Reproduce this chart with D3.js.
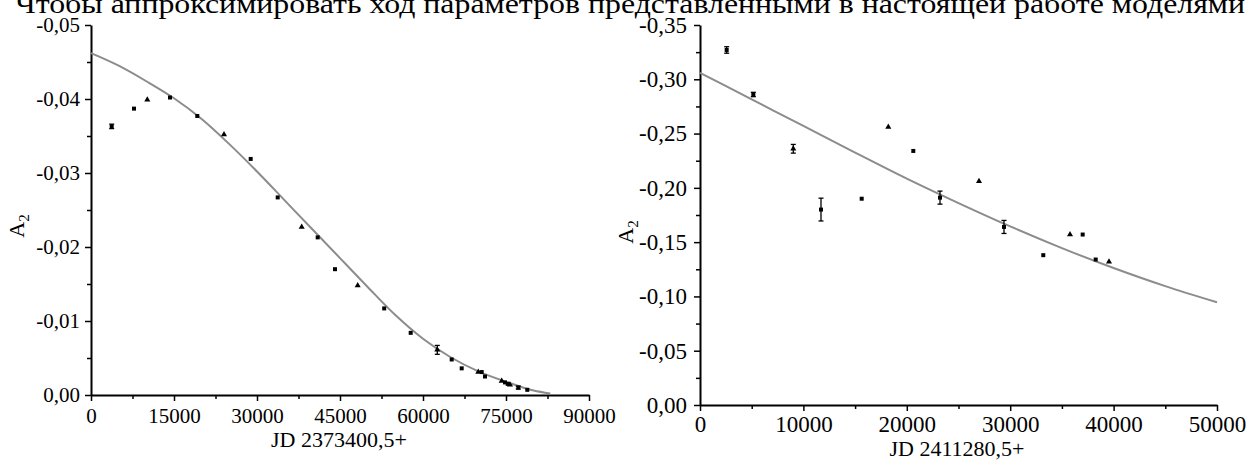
<!DOCTYPE html>
<html>
<head>
<meta charset="utf-8">
<script src="https://cdn.jsdelivr.net/npm/d3@7"></script>
<style>
  body { margin: 0; background: #fff; }
  svg { display: block; }
  text { font-family: "Liberation Serif", "Times New Roman", serif; fill: #000; }
</style>
</head>
<body>
<div id="chart"></div>
<script>

// ---- data ----

// left panel: observed A2 vs JD 2373400,5+
var leftX = [3741, 7771, 10174, 14277, 19210, 24036, 28861, 33740, 38077, 40969,
  44096, 48198, 52987, 57777, 62583, 65186, 66993, 69993, 70607, 71204,
  74222, 74818, 75306, 75722, 77222, 78849];
var leftY = [-0.0363, -0.0387, -0.0399, -0.0402, -0.0377, -0.0352, -0.0319, -0.0267, -0.0227, -0.0213,
  -0.0170, -0.0148, -0.0117, -0.0084, -0.0061, -0.0048, -0.0036, -0.0031, -0.0031, -0.0025,
  -0.0019, -0.0017, -0.0015, -0.0014, -0.0010, -0.0007];
var leftErr = [0.0003, 0, 0, 0, 0, 0, 0, 0, 0, 0,
  0, 0, 0, 0, 0.0006, 0, 0, 0, 0, 0,
  0, 0, 0, 0, 0.0002, 0];

// left panel: fitted model curve
var leftFitX = [0, 5000, 10000, 15000, 20000, 25000, 30000, 35000, 40000, 45000,
  50000, 55000, 60000, 65000, 70000, 75000, 80000, 83000];
var leftFitY = [-0.0462, -0.0445, -0.0424, -0.0401, -0.0373, -0.0339, -0.0302, -0.0263, -0.0224, -0.0185,
  -0.0146, -0.0108, -0.0076, -0.0051, -0.0032, -0.0018, -0.0006, -0.0002];

// right panel: observed A2 vs JD 2411280,5+
var rightX = [2579, 5157, 9023, 11702, 15638, 18211, 20629, 23211, 26983, 29400,
  33200, 35783, 37010, 38269, 39555];
var rightY = [-0.327, -0.286, -0.236, -0.180, -0.190, -0.256, -0.234, -0.191, -0.206, -0.164,
  -0.138, -0.157, -0.157, -0.134, -0.132];
var rightErr = [0.003, 0.002, 0.004, 0.0105, 0, 0, 0, 0.006, 0, 0.006,
  0, 0, 0, 0, 0];

// right panel: fitted model curve
var rightFitX = [0, 5000, 10000, 15000, 20000, 25000, 30000, 35000, 40000, 45000, 50000];
var rightFitY = [-0.306, -0.2815, -0.257, -0.2325, -0.2085, -0.186, -0.1645, -0.1445, -0.1262, -0.1095, -0.0946];

// tick values
var leftXTicks = [0, 15000, 30000, 45000, 60000, 75000, 90000];
var leftXMinor = [7500, 22500, 37500, 52500, 67500, 82500];
var leftYTicks = [0, -0.01, -0.02, -0.03, -0.04, -0.05];
var leftYMinor = [-0.005, -0.015, -0.025, -0.035, -0.045];
var rightXTicks = [0, 10000, 20000, 30000, 40000, 50000];
var rightXMinor = [5000, 15000, 25000, 35000, 45000];
var rightYTicks = [0, -0.05, -0.10, -0.15, -0.20, -0.25, -0.30, -0.35];
var rightYMinor = [-0.025, -0.075, -0.125, -0.175, -0.225, -0.275, -0.325];

var caption = "Чтобы аппроксимировать ход параметров представленными в настоящей работе моделями";

// ---- svg frame ----
var svgWidth = 1248;
var svgHeight = 461;

var svg = d3.select("#chart")
  .append("svg")
  .attr("width", svgWidth)
  .attr("height", svgHeight);

// comma decimal, plain hyphen minus
var ru = d3.formatLocale({decimal: ",", thousands: "", grouping: [3], currency: ["", ""], minus: "-"});

// caption line cut at the top of the page
svg.append("text")
  .attr("x", 15)
  .attr("y", 13)
  .attr("font-size", "27px")
  .attr("textLength", 1230)
  .attr("lengthAdjust", "spacingAndGlyphs")
  .text(caption);

// function that draws one panel
function drawPanel(p) {
  var x = d3.scaleLinear().domain(p.xDomain).range([p.left, p.right]);
  var y = d3.scaleLinear().domain(p.yDomain).range([p.bottom, p.top]);

  var g = svg.append("g");

  // minor ticks
  g.append("g")
    .attr("transform", `translate(0, ${p.bottom})`)
    .call(d3.axisBottom(x).tickValues(p.xMinor).tickSize(4).tickFormat(""))
    .call(s => s.select(".domain").remove());
  g.append("g")
    .attr("transform", `translate(${p.left}, 0)`)
    .call(d3.axisLeft(y).tickValues(p.yMinor).tickSize(4).tickFormat(""))
    .call(s => s.select(".domain").remove());

  // major axes
  var xAxis = g.append("g")
    .attr("transform", `translate(0, ${p.bottom})`)
    .call(d3.axisBottom(x).tickValues(p.xTicks).tickSize(6).tickSizeOuter(0)
      .tickPadding(p.xPad).tickFormat(ru.format("d")));
  var yAxis = g.append("g")
    .attr("transform", `translate(${p.left}, 0)`)
    .call(d3.axisLeft(y).tickValues(p.yTicks).tickSize(6).tickSizeOuter(0)
      .tickPadding(p.yPad).tickFormat(ru.format(".2f")));

  [xAxis, yAxis].forEach(function(a) {
    a.selectAll("text")
      .attr("font-size", p.tickFont)
      .attr("font-family", "Liberation Serif")
      .attr("fill", "#000");
  });
  g.selectAll(".tick line").attr("stroke", "#000").attr("stroke-width", 1.5);
  g.selectAll(".domain").attr("stroke", "#000").attr("stroke-width", 2);

  // axis titles
  g.append("text")
    .attr("x", p.xTitleX)
    .attr("y", p.xTitleY)
    .attr("text-anchor", "middle")
    .attr("font-size", p.titleFont)
    .text(p.xTitle);

  var yl = g.append("text")
    .attr("transform", `translate(${p.yTitleX}, ${p.yTitleY}) rotate(-90)`)
    .attr("text-anchor", "middle")
    .attr("font-size", p.titleFont);
  yl.append("tspan").text("A");
  yl.append("tspan").attr("dy", "0.3em").attr("font-size", "15px").text("2");

  // fitted curve
  var fit = p.fitX.map((d, i) => [d, p.fitY[i]]);
  g.append("path")
    .datum(fit)
    .attr("fill", "none")
    .attr("stroke", "#8c8c8c")
    .attr("stroke-width", 2)
    .attr("d", d3.line().x(d => x(d[0])).y(d => y(d[1])).curve(d3.curveMonotoneX));

  // observations with error bars
  var pts = p.obsX.map((d, i) => ({x: d, y: p.obsY[i], e: p.obsErr[i]}));

  var bars = g.selectAll(".err")
    .data(pts.filter(d => d.e > 0))
    .enter()
    .append("g")
    .attr("class", "err")
    .attr("stroke", "#000")
    .attr("stroke-width", 1.3);
  bars.append("line")
    .attr("x1", d => x(d.x)).attr("x2", d => x(d.x))
    .attr("y1", d => y(d.y - d.e)).attr("y2", d => y(d.y + d.e));
  bars.append("line")
    .attr("x1", d => x(d.x) - 2.5).attr("x2", d => x(d.x) + 2.5)
    .attr("y1", d => y(d.y - d.e)).attr("y2", d => y(d.y - d.e));
  bars.append("line")
    .attr("x1", d => x(d.x) - 2.5).attr("x2", d => x(d.x) + 2.5)
    .attr("y1", d => y(d.y + d.e)).attr("y2", d => y(d.y + d.e));

  g.selectAll(".pt")
    .data(pts)
    .enter()
    .append("path")
    .attr("class", "pt")
    .attr("transform", d => `translate(${x(d.x)}, ${y(d.y)})`)
    .attr("d", (d, i) => d3.symbol().type(i % 3 === 2 ? d3.symbolTriangle : d3.symbolSquare).size(16)())
    .attr("fill", "#000");
}

// left panel
drawPanel({
  xDomain: [0, 90000], yDomain: [0, -0.05],
  left: 91, right: 589, top: 25, bottom: 395,
  xTicks: leftXTicks, xMinor: leftXMinor, yTicks: leftYTicks, yMinor: leftYMinor,
  xPad: 7, yPad: 5, tickFont: "21px", titleFont: "22px",
  xTitle: "JD 2373400,5+", xTitleX: 339, xTitleY: 447,
  yTitleX: 24, yTitleY: 226,
  fitX: leftFitX, fitY: leftFitY,
  obsX: leftX, obsY: leftY, obsErr: leftErr
});

// right panel
drawPanel({
  xDomain: [0, 50000], yDomain: [0, -0.35],
  left: 700, right: 1217, top: 25, bottom: 405,
  xTicks: rightXTicks, xMinor: rightXMinor, yTicks: rightYTicks, yMinor: rightYMinor,
  xPad: 5, yPad: 7, tickFont: "23px", titleFont: "22px",
  xTitle: "JD 2411280,5+", xTitleX: 957, xTitleY: 456,
  yTitleX: 633, yTitleY: 232,
  fitX: rightFitX, fitY: rightFitY,
  obsX: rightX, obsY: rightY, obsErr: rightErr
});

</script>
</body>
</html>
